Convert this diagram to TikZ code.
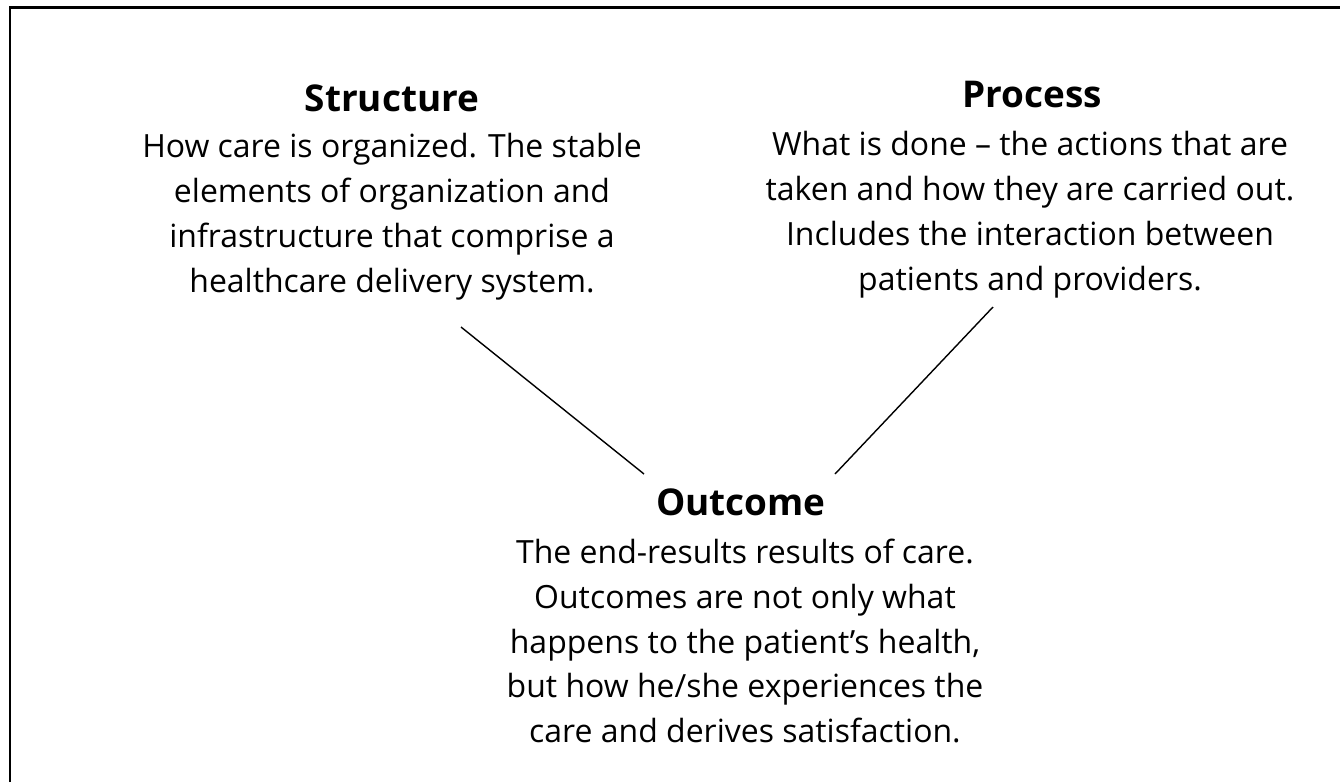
\documentclass[tikz,border=0pt]{standalone}
\usepackage{fontspec}
\setmainfont{Open Sans}
\usetikzlibrary{positioning}

\begin{document}
\begin{tikzpicture}[x=0.02cm, y=-0.02cm,
    heading/.style={font=\fontsize{21}{24}\selectfont\bfseries, inner sep=0pt},
    blurb/.style={align=center, font=\fontsize{18.2}{25.6}\selectfont, inner sep=0pt}]
    \useasboundingbox (0,0) rectangle (1340,782);
    \draw[line width=1.7pt] (10,782) -- (10,7.5) -- (1340,7.5);

    \node[heading] (stitle) at (392,98) {Structure};
    \node[blurb] (sbody) at (392,217) {How care is organized. The stable\\ elements of organization and\\ infrastructure that comprise a\\ healthcare delivery system.};

    \node[heading] (ptitle) at (1032,95) {Process};
    \node[blurb] (pbody) at (1030,215) {What is done -- the actions that are\\ taken and how they are carried out.\\ Includes the interaction between\\ patients and providers.};

    \node[heading] (otitle) at (741,502) {Outcome};
    \node[blurb] (obody) at (745,641) {The end-results results of care.\\ Outcomes are not only what\\ happens to the patient’s health,\\ but how he/she experiences the\\ care and derives satisfaction.};

    \coordinate (s1) at (461,327);
    \coordinate (o1) at (644,474);
    \coordinate (p1) at (993,307);
    \coordinate (o2) at (835,474);
    \draw[line width=0.8pt] (s1) -- (o1);
    \draw[line width=0.8pt] (p1) -- (o2);
\end{tikzpicture}
\end{document}
